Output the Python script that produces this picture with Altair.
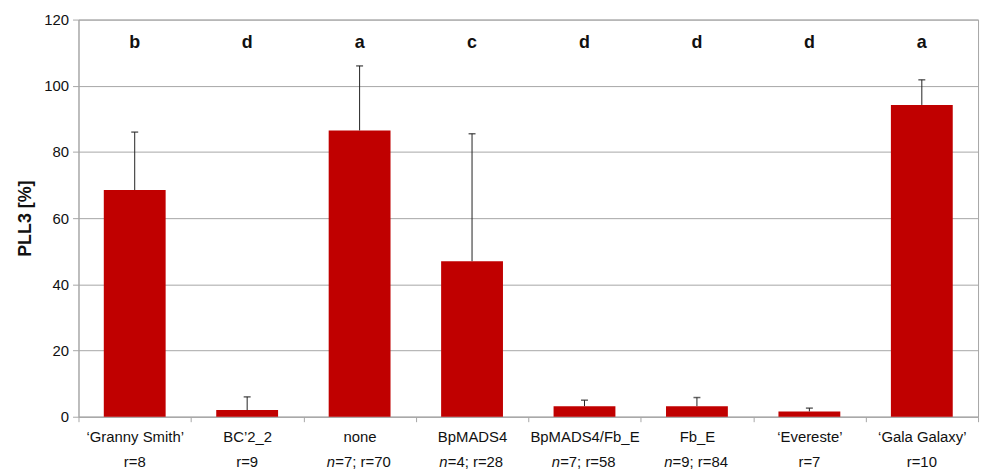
import altair as alt
import pandas as pd

categories = ["‘Granny Smith’", "BC’2_2", "none", "BpMADS4", "BpMADS4/Fb_E", "Fb_E", "‘Evereste’", "‘Gala Galaxy’"]
means = [68.5, 2.0, 86.5, 47.0, 3.2, 3.2, 1.6, 94.2]
errors = [17.5, 4.0, 19.5, 38.5, 1.8, 2.6, 1.0, 7.6]
letters = ["b", "d", "a", "c", "d", "d", "d", "a"]
n_values = [None, None, 7, 4, 7, 9, None, None]
r_values = [8, 9, 70, 28, 58, 84, 7, 10]

rows = []
for c, m, e, l, n, r in zip(categories, means, errors, letters, n_values, r_values):
    rest = (f"={n}; r={r}" if n is not None else f"r={r}")
    rows.append({"cat": c, "mean": m, "top": m + e, "letter": l,
                 "hasn": n is not None, "rest": rest, "nlab": "n"})
df = pd.DataFrame(rows)

FONT = "Liberation Sans"
GRAY = "#a6a6a6"

x = alt.X("cat:N", sort=categories, title=None,
          scale=alt.Scale(paddingInner=0, paddingOuter=0),
          axis=alt.Axis(labelAngle=0, tickBand="extent", tickSize=5, tickColor=GRAY,
                        domainColor=GRAY, labelFontSize=15, labelFont=FONT,
                        labelColor="#111", labelPadding=8, grid=False))

base = alt.Chart(df)

bars = base.mark_bar(color="#C00000", width=alt.RelativeBandSize(0.55)).encode(
    x=x,
    y=alt.Y("mean:Q", scale=alt.Scale(domain=[0, 120]),
            axis=alt.Axis(values=[0, 20, 40, 60, 80, 100, 120], title="PLL3 [%]",
                          titleFont=FONT, titleFontSize=18, titleFontWeight="bold",
                          titleColor="#111", titlePadding=9,
                          labelFont=FONT, labelFontSize=15, labelColor="#111",
                          labelPadding=4, tickSize=6, tickColor=GRAY,
                          domainColor=GRAY, gridColor=GRAY, grid=True)),
)

err = base.mark_rule(color="#222", strokeWidth=1).encode(
    x=alt.X("cat:N", sort=categories), y="mean:Q", y2="top:Q")

caps = base.mark_tick(color="#222", size=7, thickness=1.5).encode(
    x=alt.X("cat:N", sort=categories), y="top:Q")

letter_text = base.mark_text(font=FONT, fontSize=18, fontWeight="bold",
                             color="#111", baseline="middle").encode(
    x=alt.X("cat:N", sort=categories), y=alt.datum(112.8), text="letter:N")

plain = base.transform_filter("!datum.hasn").mark_text(
    font=FONT, fontSize=15, color="#111", baseline="middle").encode(
    x=alt.X("cat:N", sort=categories), y=alt.value(446), text="rest:N")

n_ital = base.transform_filter("datum.hasn").mark_text(
    font=FONT, fontSize=15, fontStyle="italic", color="#111",
    baseline="middle", align="left", dx=-33).encode(
    x=alt.X("cat:N", sort=categories), y=alt.value(446), text="nlab:N")

n_rest = base.transform_filter("datum.hasn").mark_text(
    font=FONT, fontSize=15, color="#111",
    baseline="middle", align="left", dx=-24.5).encode(
    x=alt.X("cat:N", sort=categories), y=alt.value(446), text="rest:N")

chart = alt.layer(bars, err, caps, letter_text, plain, n_ital, n_rest).properties(
    width=906, height=400,
    autosize=alt.AutoSizeParams(type="none"),
    padding={"left": 71, "top": 10, "right": 6, "bottom": 52},
).configure_view(stroke=GRAY, strokeWidth=1)

chart.save("out.html", embed_options={"renderer": "svg", "actions": False})
